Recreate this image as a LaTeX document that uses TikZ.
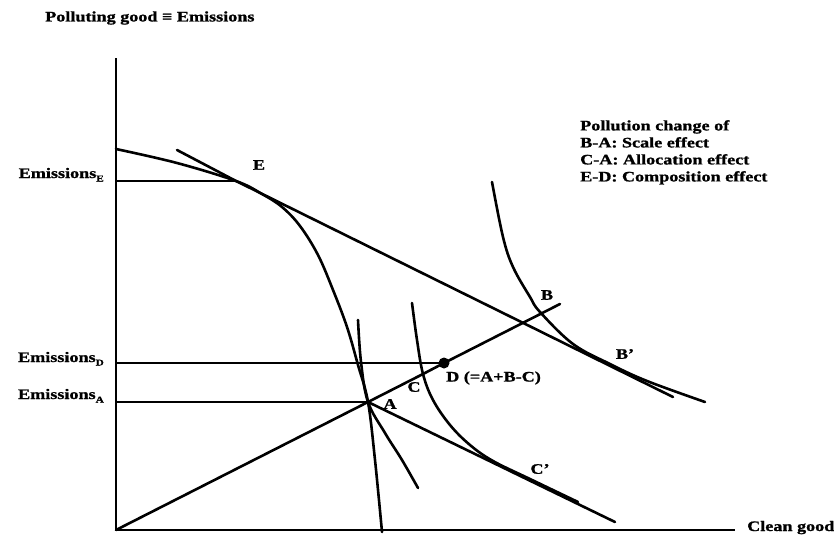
\documentclass[tikz,border=0pt]{standalone}
\usepackage{fontspec}
\setmainfont{Liberation Serif}[FakeStretch=1.25, BoldFeatures={FakeBold=1.2}]
\usetikzlibrary{positioning}
\newcommand{\emsub}[1]{\raisebox{-3.5pt}{\fontsize{9}{9}\selectfont #1}}

\begin{document}
\begin{tikzpicture}[x=1pt, y=-1pt,
    font=\bfseries\fontsize{14.5}{17}\selectfont,
    axis/.style={line width=2pt},
    level/.style={line width=1.8pt},
    curve/.style={line width=2.6pt, line cap=round, line join=round},
    lbl/.style={inner sep=0pt}]
  \useasboundingbox (0,0) rectangle (834,535);
  \coordinate (O) at (116,530);
  \coordinate (ytop) at (116,58);
  \coordinate (xend) at (735,530);
  \coordinate (E) at (236,181);
  \coordinate (A) at (368,402);
  \coordinate (C) at (423,374);
  \coordinate (D) at (444,363);
  \coordinate (rayend) at (560,304);
  \coordinate (tE1) at (177,150);
  \coordinate (tE2) at (673,397);
  \coordinate (tA2) at (615,522);
  \coordinate (yE) at (116,181);
  \coordinate (yD) at (116,363);
  \coordinate (yA) at (116,402);
  \draw[axis] (ytop) -- (O) -- (xend);
  \draw[level] (yE) -- (E);
  \draw[level] (yD) -- (D);
  \draw[level] (yA) -- (A);
  \draw[curve] plot[smooth, tension=0.6] coordinates {(116,149) (177,163) (236,181) (262,194) (282,207) (300,226) (318,255) (333,290) (347,327) (358,365) (368,402) (375,460) (382,532)};
  \draw[curve] (tE1) -- (E) -- (tE2);
  \draw[curve] (O) -- (A) -- (C) -- (D) -- (rayend);
  \draw[curve] (A) -- (tA2);
  \draw[curve] plot[smooth, tension=0.6] coordinates {(358,320) (361,362) (368,402) (385,433) (402,460) (418,488)};
  \draw[curve] plot[smooth, tension=0.6] coordinates {(412,303) (417,340) (423,374) (433,400) (450,425) (470,445) (493,461) (530,479) (578,502)};
  \draw[curve] plot[smooth, tension=0.6] coordinates {(492,182) (503,237) (513,267) (530,297) (540,312) (573,344) (610,364) (647,381) (705,402)};
  \fill (D) circle (5.5);
  \node[lbl, anchor=west] (title) at (45,18) {Polluting good ≡ Emissions};
  \node[lbl, anchor=base west] (xlab) at (747,531) {Clean good};
  \node[lbl, anchor=base east] (emE) at (104,178) {Emissions\emsub{E}};
  \node[lbl, anchor=base east] (emD) at (104,362) {Emissions\emsub{D}};
  \node[lbl, anchor=base east] (emA) at (104,399) {Emissions\emsub{A}};
  \node[lbl] (lE) at (259,165) {E};
  \node[lbl] (lA) at (390,404) {A};
  \node[lbl] (lC) at (414,387) {C};
  \node[lbl, anchor=west] (lD) at (446,378) {D (=A+B-C)};
  \node[lbl] (lB) at (547,295) {B};
  \node[lbl] (lBp) at (625,354) {B'};
  \node[lbl] (lCp) at (540,469) {C'};
  \node[lbl, anchor=north west, align=left] (legend) at (580,120) {Pollution change of\\B-A: Scale effect\\C-A: Allocation effect\\E-D: Composition effect};
\end{tikzpicture}
\end{document}
